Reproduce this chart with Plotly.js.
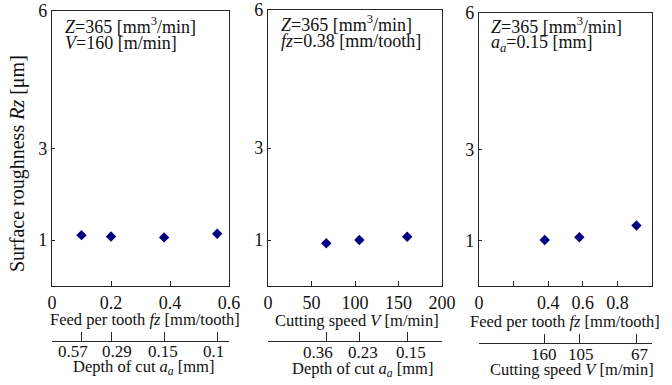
<!DOCTYPE html>
<html><head><meta charset="utf-8">
<script src="https://cdn.plot.ly/plotly-3.0.1.min.js"></script>
<style>html,body{margin:0;padding:0;background:#fff}#chart{width:672px;height:385px}</style>
</head><body><div id="chart"></div><script>
// Panel 1: V = 160 m/min, feed per tooth varied (depth of cut follows)
const fz1 = [0.10, 0.20, 0.38, 0.56];
const aa1Labels = ['0.57', '0.29', '0.15', '0.1'];
const rz1 = [1.11, 1.08, 1.06, 1.14];
// Panel 2: fz = 0.38 mm/tooth, cutting speed varied (depth of cut follows)
const v2 = [67, 105, 160];
const aa2Labels = ['0.36', '0.23', '0.15'];
const rz2 = [0.93, 1.00, 1.07];
// Panel 3: aa = 0.15 mm, feed per tooth varied (cutting speed follows)
const fz3 = [0.38, 0.58, 0.91];
const v3Labels = ['160', '105', '67'];
const rz3 = [1.01, 1.07, 1.33];
// Tick labels
const yTickVals = [1, 3, 6];
const x1Ticks = [0, 0.2, 0.4, 0.6];
const x2Ticks = [0, 50, 100, 150, 200];
const x3TickVals = [0, 0.4, 0.6, 0.8];
const x3Minor = [0.2, 1.0];

const W = 672, H = 385;
const FONT = 'Liberation Serif';
const px = v => v / W;
const py = v => 1 - v / H;
const navy = '#000080';
const lineCol = '#262626';

const marker = {symbol: 'diamond', size: 8, color: navy};
const traces = [
  {x: fz1, y: rz1, xaxis: 'x', yaxis: 'y', mode: 'markers', marker: marker, hoverinfo: 'x+y'},
  {x: v2, y: rz2, xaxis: 'x2', yaxis: 'y2', mode: 'markers', marker: marker, hoverinfo: 'x+y'},
  {x: fz3, y: rz3, xaxis: 'x3', yaxis: 'y3', mode: 'markers', marker: marker, hoverinfo: 'x+y'},
  // invisible carriers for the secondary (lower) axes
  {x: fz1, y: rz1, xaxis: 'x4', yaxis: 'y', mode: 'markers', marker: {opacity: 0}, hoverinfo: 'skip'},
  {x: v2, y: rz2, xaxis: 'x5', yaxis: 'y2', mode: 'markers', marker: {opacity: 0}, hoverinfo: 'skip'},
  {x: fz3, y: rz3, xaxis: 'x6', yaxis: 'y3', mode: 'markers', marker: {opacity: 0}, hoverinfo: 'skip'}
];

const tickFont = {family: FONT, size: 18, color: '#111'};
const secFont = {family: FONT, size: 17, color: '#111'};
function mainX(domain, range, tickvals, anchor, minorVals) {
  const ax = {domain: domain, range: range, tickmode: 'array', tickvals: tickvals, ticktext: tickvals.map(String),
    ticks: 'inside', ticklen: 5, tickcolor: lineCol, tickwidth: 1, showline: true, linecolor: lineCol,
    linewidth: 1.2, mirror: true, showgrid: false, zeroline: false, anchor: anchor, tickangle: 0,
    tickfont: tickFont, fixedrange: true};
  if (minorVals) ax.minor = {tickmode: 'array', tickvals: minorVals, ticks: 'inside', ticklen: 5, tickcolor: lineCol, showgrid: false};
  return ax;
}
function yAx(top, anchor) {
  return {domain: [py(286), py(top)], range: [0, 6], tickmode: 'array', tickvals: yTickVals,
    ticks: 'inside', ticklen: 3, tickcolor: lineCol, showline: true, linecolor: lineCol, linewidth: 1.2,
    mirror: true, showgrid: false, zeroline: false, anchor: anchor, tickfont: tickFont, fixedrange: true};
}
function secX(over, range, tickvals, ypos) {
  return {overlaying: over, anchor: 'free', position: py(ypos), range: range, side: 'bottom',
    tickmode: 'array', tickvals: [range[0]].concat(tickvals, [range[1]]), showticklabels: false,
    ticks: 'inside', ticklen: 9, tickcolor: lineCol, tickwidth: 1, showline: true, linecolor: lineCol,
    linewidth: 1.2, showgrid: false, zeroline: false, fixedrange: true};
}

const d1 = [px(52), px(229)], d2 = [px(268), px(442)], d3 = [px(479), px(652)];
const layout = {
  width: W, height: H, margin: {l: 0, r: 0, t: 0, b: 0}, showlegend: false,
  paper_bgcolor: '#fff', plot_bgcolor: '#fff', font: {family: FONT, color: '#111'},
  xaxis: mainX(d1, [0, 0.6], x1Ticks, 'y'),
  xaxis2: mainX(d2, [0, 200], x2Ticks, 'y2'),
  xaxis3: mainX(d3, [0, 1], x3TickVals, 'y3', x3Minor),
  yaxis: yAx(11, 'x'),
  yaxis2: yAx(10, 'x2'),
  yaxis3: yAx(13, 'x3'),
  xaxis4: secX('x', [0, 0.6], fz1, 341),
  xaxis5: secX('x2', [0, 200], v2, 341),
  xaxis6: secX('x3', [0, 1], fz3, 343),
  annotations: []
};

function ann(text, x, y, size, xanchor, extra) {
  return Object.assign({text: text, xref: 'paper', yref: 'paper', x: px(x), y: py(y), xanchor: xanchor || 'center',
    yanchor: 'middle', showarrow: false, font: {family: FONT, size: size, color: '#111'}}, extra || {});
}
const A = layout.annotations;
// secondary tick labels, positioned through the axes' own scales (small nudges as in the original figure)
function secLabels(xref, vals, labels, ypos, nudges) {
  vals.forEach((v, i) => A.push({text: labels[i], xref: xref, yref: 'paper', x: v, y: py(ypos),
    xanchor: 'center', yanchor: 'middle', showarrow: false, font: secFont, xshift: nudges[i],
    borderpad: 0}));
}
secLabels('x4', fz1, aa1Labels, 351, [-9, 6, -1, -4]);
secLabels('x5', v2, aa2Labels, 352, [-8, 4, 4]);
secLabels('x6', fz3, v3Labels, 354, [-1, 2, 4]);
// y-axis title
A.push(ann('Surface roughness <i>Rz</i> [μm]', 18, 164, 20, 'center', {textangle: -90}));
// x-axis titles
const T = 16.5;
A.push(ann('Feed per tooth <i>fz</i> [mm/tooth]', 145, 319, T));
A.push(ann('Depth of cut <i>a<sub>a</sub></i> [mm]', 143, 367, T));
A.push(ann('Cutting speed <i>V</i> [m/min]', 357, 320, T));
A.push(ann('Depth of cut <i>a<sub>a</sub></i> [mm]', 362, 369, T));
A.push(ann('Feed per tooth <i>fz</i> [mm/tooth]', 565, 321, T));
A.push(ann('Cutting speed <i>V</i> [m/min]', 572, 369, T));
// condition labels in each panel
A.push(ann('<i>Z</i>=365 [mm<sup>3</sup>/min]', 63, 25, 18, 'left'));
A.push(ann('<i>V</i>=160 [m/min]', 63, 43, 18, 'left'));
A.push(ann('<i>Z</i>=365 [mm<sup>3</sup>/min]', 279, 23, 18, 'left'));
A.push(ann('<i>fz</i>=0.38 [mm/tooth]', 279, 41, 18, 'left'));
A.push(ann('<i>Z</i>=365 [mm<sup>3</sup>/min]', 489, 25, 18, 'left'));
A.push(ann('<i>a<sub>a</sub></i>=0.15 [mm]', 489, 43, 18, 'left'));

Plotly.newPlot('chart', traces, layout, {displayModeBar: false, staticPlot: true});
</script></body></html>
